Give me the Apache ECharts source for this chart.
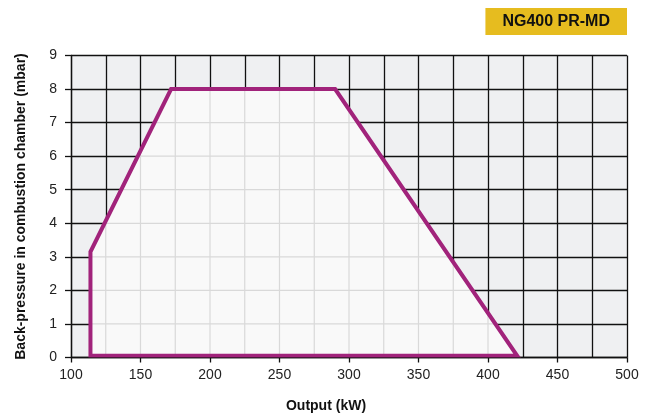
<!DOCTYPE html>
<html><head><meta charset="utf-8">
<script src="https://cdn.jsdelivr.net/npm/echarts@6/dist/echarts.min.js"></script>
<style>html,body{margin:0;padding:0;background:#fff}#c{width:659px;height:419px}</style>
</head><body><div id="c"></div>
<script>
// Operating envelope (Output kW, back-pressure mbar)
const envX = [114, 114, 172, 290, 421];
const envY = [0.05, 3.15, 8, 8, 0.05];
const xTicks = [100, 150, 200, 250, 300, 350, 400, 450, 500];
const yTicks = [0, 1, 2, 3, 4, 5, 6, 7, 8, 9];
const xGridStep = 25;
const titleText = 'NG400 PR-MD';

const FONT = '"Liberation Sans", Arial, Helvetica, sans-serif';
const PURPLE = '#a1237b';

function segVertical(v) {
  const ys = [];
  for (let i = 0; i < envX.length; i++) {
    const j = (i + 1) % envX.length;
    const x1 = envX[i], y1 = envY[i], x2 = envX[j], y2 = envY[j];
    if (x1 === x2) continue;
    if ((x1 - v) * (x2 - v) <= 0) ys.push(y1 + (v - x1) * (y2 - y1) / (x2 - x1));
  }
  return ys.length ? [Math.min(...ys), Math.max(...ys)] : null;
}
function segHorizontal(h) {
  const xs = [];
  for (let i = 0; i < envX.length; i++) {
    const j = (i + 1) % envX.length;
    const x1 = envX[i], y1 = envY[i], x2 = envX[j], y2 = envY[j];
    if (y1 === y2) continue;
    if ((y1 - h) * (y2 - h) <= 0) xs.push(x1 + (h - y1) * (x2 - x1) / (y2 - y1));
  }
  return xs.length ? [Math.min(...xs), Math.max(...xs)] : null;
}

const chart = echarts.init(document.getElementById('c'));
chart.setOption({
  animation: false,
  backgroundColor: '#fff',
  title: {
    text: titleText,
    right: 32, top: 8,
    backgroundColor: '#e6bc1f',
    padding: [5, 17, 5, 17],
    textStyle: { fontFamily: FONT, fontWeight: 'bold', fontSize: 16, color: '#111', lineHeight: 17 }
  },
  grid: { left: 71, right: 32, top: 55.5, bottom: 61.5, show: true, backgroundColor: '#eff0f2', borderWidth: 0 },
  xAxis: {
    type: 'value', min: xTicks[0], max: xTicks[xTicks.length - 1], interval: 50,
    name: 'Output (kW)', nameLocation: 'middle', nameGap: 42,
    nameTextStyle: { fontFamily: FONT, fontWeight: 'bold', fontSize: 14, color: '#111', padding: [0, 46, 0, 0] },
    axisLine: { show: true, lineStyle: { color: '#111', width: 1.3 } },
    axisTick: { show: true, length: 5, lineStyle: { color: '#111', width: 1.3 } },
    axisLabel: { fontFamily: FONT, fontSize: 14, color: '#222', margin: 11 },
    splitLine: { show: true, lineStyle: { color: '#111', width: 1.3 } },
    minorTick: { show: false, splitNumber: 2 },
    minorSplitLine: { show: true, lineStyle: { color: '#111', width: 1.3 } }
  },
  yAxis: {
    type: 'value', min: yTicks[0], max: yTicks[yTicks.length - 1], interval: 1,
    name: 'Back-pressure in combustion chamber (mbar)', nameLocation: 'middle', nameGap: 43,
    nameTextStyle: { fontFamily: FONT, fontWeight: 'bold', fontSize: 14, color: '#111' },
    axisLine: { show: true, lineStyle: { color: '#111', width: 1.3 } },
    axisTick: { show: true, length: 6, lineStyle: { color: '#111', width: 1.3 } },
    axisLabel: { fontFamily: FONT, fontSize: 14, color: '#222', margin: 14 },
    splitLine: { show: true, lineStyle: { color: '#111', width: 1.3 } }
  },
  series: [{
    type: 'custom',
    coordinateSystem: 'cartesian2d',
    data: [[envX[0], envY[0]]],
    clip: true,
    renderItem: function (params, api) {
      const pts = envX.map((x, i) => api.coord([x, envY[i]]));
      const children = [{
        type: 'polygon', shape: { points: pts },
        style: { fill: '#f9f9f9', stroke: 'none' }
      }];
      const x0 = xTicks[0], x1 = xTicks[xTicks.length - 1];
      for (let v = x0 + xGridStep; v < x1; v += xGridStep) {
        const s = segVertical(v);
        if (!s) continue;
        const a = api.coord([v, s[0]]), b = api.coord([v, s[1]]);
        children.push({ type: 'line', shape: { x1: a[0], y1: a[1], x2: b[0], y2: b[1] },
          style: { stroke: '#d9d9d9', lineWidth: 1.2 } });
      }
      for (let k = 1; k < yTicks.length - 1; k++) {
        const s = segHorizontal(yTicks[k]);
        if (!s) continue;
        const a = api.coord([s[0], yTicks[k]]), b = api.coord([s[1], yTicks[k]]);
        children.push({ type: 'line', shape: { x1: a[0], y1: a[1], x2: b[0], y2: b[1] },
          style: { stroke: '#d9d9d9', lineWidth: 1.2 } });
      }
      children.push({
        type: 'polygon', shape: { points: pts },
        style: { fill: 'none', stroke: PURPLE, lineWidth: 4, lineJoin: 'miter' }
      });
      return { type: 'group', children: children };
    }
  }]
});
</script>
</body></html>
